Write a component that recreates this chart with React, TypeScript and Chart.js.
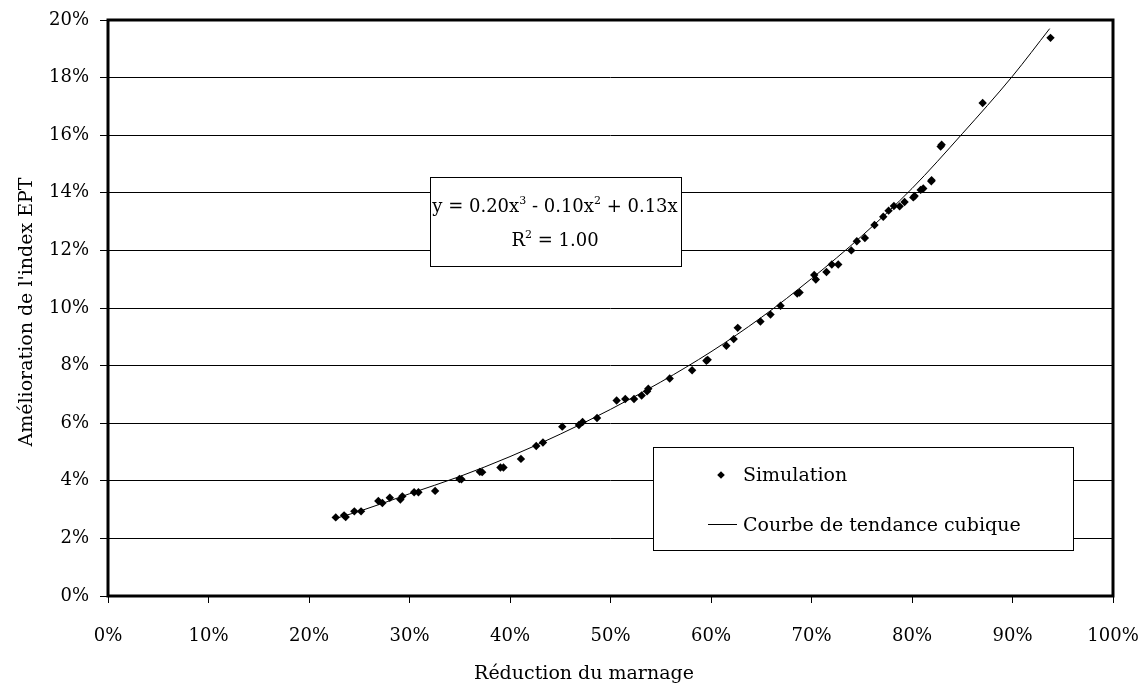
import { useEffect, useRef } from "react";
import { Chart, registerables } from "chart.js";

Chart.register(...registerables);

// ---- Data (percent units) ----
const simX = [
  22.66, 23.49, 23.65, 24.51, 25.18, 26.9, 27.3, 28.04, 29.09, 29.29, 30.46, 30.89, 32.55,
  34.97, 35.17, 37.0, 37.23, 39.05, 39.35, 41.09, 42.61, 43.28, 45.2, 46.86, 47.22, 48.66,
  50.61, 51.47, 52.34, 53.1, 53.64, 53.76, 55.89, 58.12, 59.54, 59.67, 61.53, 62.26, 62.66,
  64.92, 65.92, 66.92, 68.58, 68.81, 70.27, 70.43, 71.49, 72.02, 72.66, 73.96, 74.51, 75.31,
  76.27, 77.14, 77.67, 78.2, 78.77, 79.26, 80.13, 80.26, 80.86, 81.12, 81.92, 81.95, 82.85,
  82.95, 87.03, 93.78,
];
const simY = [
  2.73, 2.8, 2.74, 2.94, 2.94, 3.3, 3.23, 3.41, 3.35, 3.46, 3.6, 3.6, 3.65,
  4.06, 4.05, 4.31, 4.3, 4.46, 4.46, 4.76, 5.21, 5.33, 5.88, 5.94, 6.04, 6.18,
  6.79, 6.84, 6.84, 6.96, 7.11, 7.2, 7.55, 7.84, 8.17, 8.2, 8.69, 8.92, 9.31,
  9.53, 9.77, 10.08, 10.5, 10.54, 11.15, 10.99, 11.25, 11.51, 11.51, 12.0, 12.32, 12.43,
  12.88, 13.17, 13.38, 13.54, 13.53, 13.68, 13.84, 13.89, 14.1, 14.15, 14.4, 14.44, 15.61,
  15.67, 17.12, 19.38,
];
const trendX = [22.7, 25, 30, 35, 40, 45, 50, 55, 60, 65, 70, 75, 80, 85, 90, 93.7];
const trendY = [2.7, 2.94, 3.55, 4.15, 4.84, 5.62, 6.48, 7.43, 8.48, 9.67, 11.02, 12.5, 14.15, 16.05, 18.05, 19.7];

const xTicks = [0, 10, 20, 30, 40, 50, 60, 70, 80, 90, 100];
const yTicks = [0, 2, 4, 6, 8, 10, 12, 14, 16, 18, 20];

const xTitle = "Réduction du marnage";
const yTitle = "Amélioration de l'index EPT";
const legendLabels = ["Simulation", "Courbe de tendance cubique"];
const eqLine1 = [
  { t: "y = 0.20x", sup: false },
  { t: "3", sup: true },
  { t: " - 0.10x", sup: false },
  { t: "2", sup: true },
  { t: " + 0.13x", sup: false },
];
const eqLine2 = [
  { t: "R", sup: false },
  { t: "2", sup: true },
  { t: " = 1.00", sup: false },
];

const FONT = '"DejaVu Serif", serif';

function drawRich(
  ctx: CanvasRenderingContext2D,
  parts: { t: string; sup: boolean }[],
  cx: number,
  baseline: number,
  size: number
) {
  const base = `${size}px ${FONT}`;
  const sup = `${Math.round(size * 0.62)}px ${FONT}`;
  let w = 0;
  for (const p of parts) {
    ctx.font = p.sup ? sup : base;
    w += ctx.measureText(p.t).width;
  }
  let x = cx - w / 2;
  ctx.textAlign = "left";
  ctx.textBaseline = "alphabetic";
  for (const p of parts) {
    ctx.font = p.sup ? sup : base;
    ctx.fillText(p.t, x, p.sup ? baseline - size * 0.42 : baseline);
    x += ctx.measureText(p.t).width;
  }
}

const overlayPlugin = {
  id: "overlay",
  afterDraw(chart: any) {
    const ctx: CanvasRenderingContext2D = chart.ctx;
    const a = chart.chartArea;
    ctx.save();
    // frame
    ctx.strokeStyle = "#000";
    ctx.lineWidth = 3;
    ctx.strokeRect(a.left, a.top, a.right - a.left, a.bottom - a.top);

    // axis titles
    ctx.fillStyle = "#000";
    ctx.font = `19px ${FONT}`;
    ctx.textAlign = "center";
    ctx.textBaseline = "middle";
    ctx.fillText(xTitle, 584, 674);
    ctx.save();
    ctx.translate(27, 312);
    ctx.rotate(-Math.PI / 2);
    ctx.fillText(yTitle, 0, 0);
    ctx.restore();

    // equation box
    ctx.lineWidth = 1;
    ctx.fillStyle = "#fff";
    ctx.fillRect(430.5, 177.5, 251, 89);
    ctx.strokeRect(430.5, 177.5, 251, 89);
    ctx.fillStyle = "#000";
    drawRich(ctx, eqLine1, 555, 212, 18);
    drawRich(ctx, eqLine2, 555, 246, 18);

    // legend box
    ctx.fillStyle = "#fff";
    ctx.fillRect(653.5, 447.5, 420, 103);
    ctx.strokeRect(653.5, 447.5, 420, 103);
    ctx.fillStyle = "#000";
    // diamond marker
    const mx = 721, my = 475, r = 3.8;
    ctx.beginPath();
    ctx.moveTo(mx, my - r);
    ctx.lineTo(mx + r, my);
    ctx.lineTo(mx, my + r);
    ctx.lineTo(mx - r, my);
    ctx.closePath();
    ctx.fill();
    // line sample
    ctx.beginPath();
    ctx.moveTo(708, 524.5);
    ctx.lineTo(737, 524.5);
    ctx.stroke();
    ctx.font = `19px ${FONT}`;
    ctx.textAlign = "left";
    ctx.textBaseline = "alphabetic";
    ctx.fillText(legendLabels[0], 743, 481);
    ctx.fillText(legendLabels[1], 743, 531);
    ctx.restore();
  },
};

export default function App() {
  const ref = useRef<HTMLCanvasElement | null>(null);
  useEffect(() => {
    if (!ref.current) return;
    const chart = new Chart(ref.current, {
      type: "scatter",
      data: {
        datasets: [
          {
            label: legendLabels[0],
            data: simX.map((x, i) => ({ x, y: simY[i] })),
            pointStyle: "rectRot",
            pointRadius: 4.2,
            pointBackgroundColor: "#000",
            pointBorderWidth: 0,
            showLine: false,
            order: 1,
          },
          {
            label: legendLabels[1],
            data: trendX.map((x, i) => ({ x, y: trendY[i] })),
            showLine: true,
            borderColor: "#000",
            borderWidth: 1,
            pointRadius: 0,
            cubicInterpolationMode: "monotone",
            order: 2,
          },
        ],
      },
      options: {
        responsive: false,
        animation: false,
        events: [],
        layout: { padding: { top: 20, right: 32, left: 0, bottom: 0 } },
        plugins: { legend: { display: false }, tooltip: { enabled: false }, title: { display: false } },
        scales: {
          x: {
            type: "linear",
            min: 0,
            max: 100,
            afterBuildTicks: (s: any) => {
              s.ticks = xTicks.map((v) => ({ value: v }));
            },
            afterFit: (s: any) => {
              s.height = 92;
              s.paddingLeft = 0;
              s.paddingRight = 0;
            },
            ticks: {
              callback: (v: any) => v + "%",
              color: "#000",
              font: { family: FONT, size: 18 },
              padding: 23,
              maxRotation: 0,
            },
            grid: { drawOnChartArea: false, drawTicks: true, tickLength: 7, tickColor: "#000", tickWidth: 1 },
            border: { display: false },
          },
          y: {
            type: "linear",
            min: 0,
            max: 20,
            afterBuildTicks: (s: any) => {
              s.ticks = yTicks.map((v) => ({ value: v }));
            },
            afterFit: (s: any) => {
              s.width = 108;
              s.paddingTop = 0;
              s.paddingBottom = 0;
            },
            ticks: {
              callback: (v: any) => v + "%",
              color: "#000",
              font: { family: FONT, size: 18 },
              padding: 11,
            },
            grid: { color: "#000", lineWidth: 1, drawTicks: true, tickLength: 8, tickColor: "#000" },
            border: { display: false },
          },
        },
      },
      plugins: [overlayPlugin],
    } as any);
    return () => chart.destroy();
  }, []);
  return (
    <div style={{ position: "fixed", left: 0, top: 0, width: 1145, height: 688, background: "#fff" }}>
      <canvas ref={ref} width={1145} height={688} style={{ display: "block" }} />
    </div>
  );
}
